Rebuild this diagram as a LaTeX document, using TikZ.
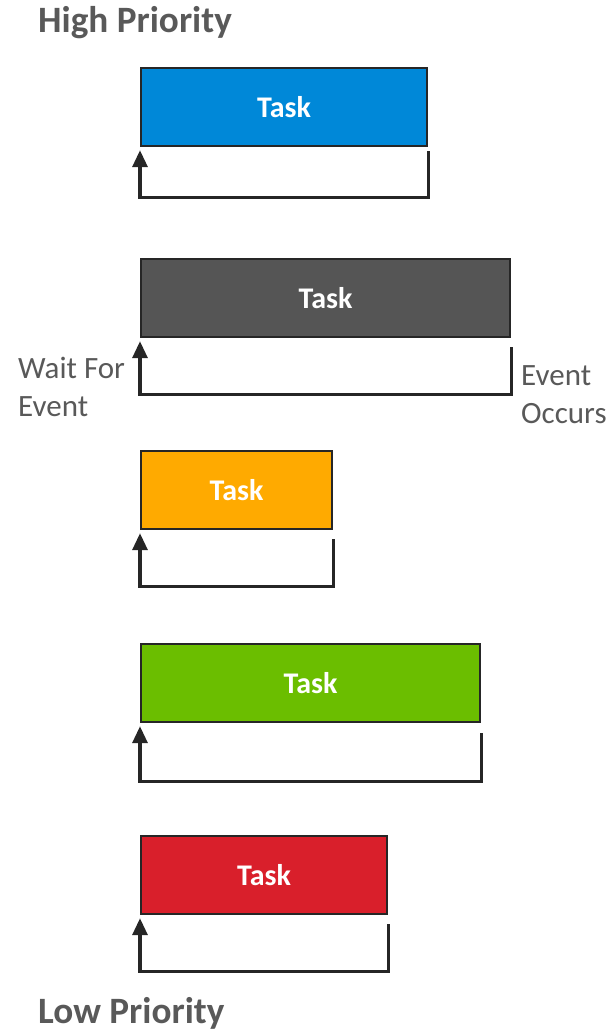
\documentclass[tikz,border=0pt]{standalone}
\usepackage{fontspec}
\setmainfont{Carlito}
\usetikzlibrary{arrows.meta,calc}
\definecolor{tblue}{HTML}{0088D8}
\definecolor{tgray}{HTML}{555555}
\definecolor{torange}{HTML}{FFAA00}
\definecolor{tgreen}{HTML}{6BBE00}
\definecolor{tred}{HTML}{D91F2B}
\definecolor{edgec}{HTML}{262626}
\definecolor{txtgray}{HTML}{595959}
\tikzset{
  taskbox/.style={draw=edgec, line width=2.2pt, anchor=north west, minimum height=78pt,
    inner sep=0pt, text=white, font=\bfseries\fontsize{30}{36}\selectfont},
  loopline/.style={draw=edgec, line width=3.3pt, -{Triangle[length=17pt,width=15pt]}},
  titletext/.style={text=txtgray, font=\bfseries\fontsize{37.2}{44}\selectfont, inner sep=0pt, anchor=base west},
  sidetext/.style={text=txtgray, font=\fontsize{31}{38}\selectfont, inner sep=0pt, anchor=north west, align=left}
}
\begin{document}
\begin{tikzpicture}[x=1pt,y=-1pt]
\useasboundingbox (0,0) rectangle (615,1034);
\node[titletext] (hp) at (38,32) {High Priority};
\node[titletext] (lp) at (38,1023) {Low Priority};

\node[taskbox, fill=tblue,   minimum width=286pt] (b1) at (140,67) {Task};
\node[taskbox, fill=tgray,   minimum width=369pt] (b2) at (140,258) {Task};
\node[taskbox, fill=torange, minimum width=191pt] (b3) at (140,450) {Task};
\node[taskbox, fill=tgreen,  minimum width=339pt] (b4) at (140,643) {Task};
\node[taskbox, fill=tred,    minimum width=246pt] (b5) at (140,835) {Task};

\draw[loopline] ($(b1.south east)+(0,4)$) -- ($(b1.south east)+(0,50)$) -| ($(b1.south west)+(0,3)$);
\draw[loopline] ($(b2.south east)+(0,9)$) -- ($(b2.south east)+(0,56)$) -| ($(b2.south west)+(0,3)$);
\draw[loopline] ($(b3.south east)+(0,9)$) -- ($(b3.south east)+(0,56)$) -| ($(b3.south west)+(0,3)$);
\draw[loopline] ($(b4.south east)+(0,10)$) -- ($(b4.south east)+(0,58)$) -| ($(b4.south west)+(0,3)$);
\draw[loopline] ($(b5.south east)+(0,9)$) -- ($(b5.south east)+(0,56)$) -| ($(b5.south west)+(0,3)$);

\node[sidetext] (wfe) at (18,357) {Wait For\\Event};
\node[sidetext] (eo) at (521,365) {Event\\Occurs};
\end{tikzpicture}
\end{document}
